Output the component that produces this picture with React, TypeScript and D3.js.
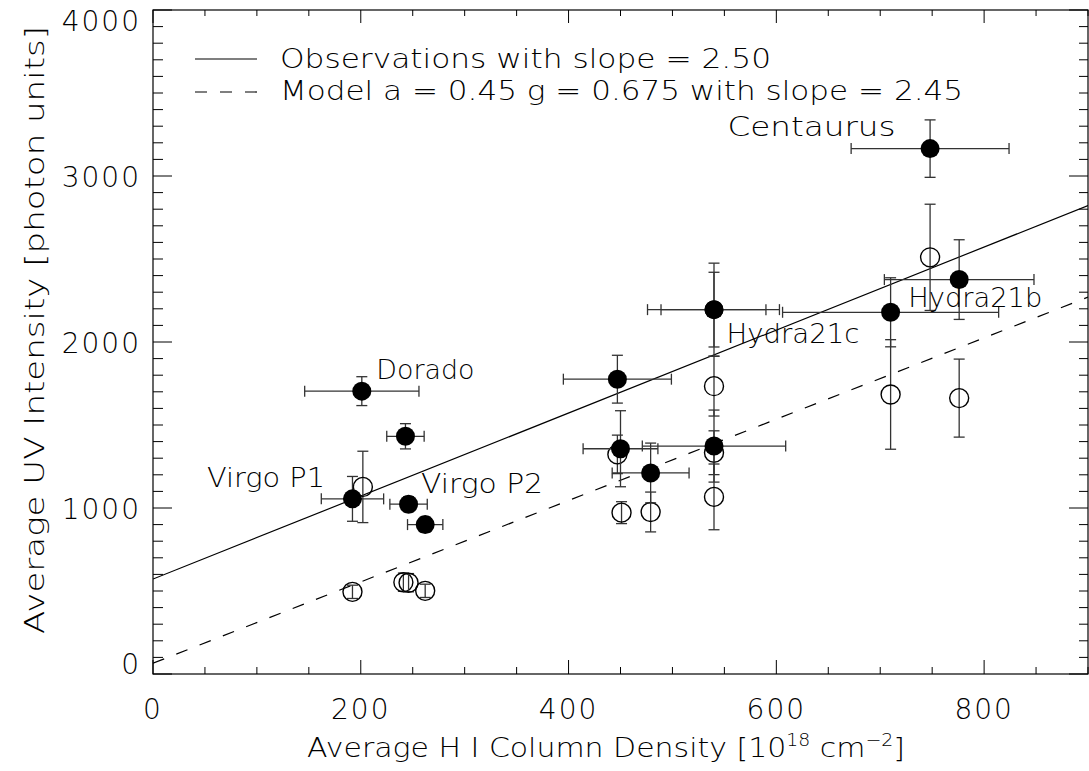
import React from "react";
import * as d3 from "d3";

// ---- data ----
const xTickValues = [0, 200, 400, 600, 800];
const yTickValues = [0, 1000, 2000, 3000, 4000];

// Filled symbols (observations)
const obsX = [201, 243, 192, 246, 262, 447, 450, 479, 540, 540, 540, 710, 748, 776];
const obsY = [1704, 1432, 1055, 1023, 900, 1776, 1357, 1211, 2195, 2195, 1373, 2179, 3165, 2376];
const obsXErrLo = [55, 18, 30, 18, 17, 52, 36, 37, 64, 51, 69, 104, 76, 72];
const obsXErrHi = [55, 18, 30, 18, 17, 52, 36, 37, 50, 63, 69, 104, 76, 72];
const obsYErr = [87, 76, 135, 45, 45, 144, 229, 180, 280, 225, 217, 208, 173, 240];

// Open symbols (model)
const modX = [202, 192, 241, 246, 262, 447, 451, 479, 540, 540, 540, 710, 748, 776];
const modY = [1127, 495, 553, 550, 501, 1323, 972, 976, 1734, 1333, 1067, 1684, 2510, 1662];
const modYErr = [215, 40, 55, 55, 40, 116, 66, 120, 180, 132, 198, 330, 320, 235];

// Labels placed at data coordinates (left, baseline)
const labelText = ["Centaurus", "Hydra21b", "Hydra21c", "Dorado", "Virgo P1", "Virgo P2"];
const labelX = [553, 727, 552, 215, 52, 258];
const labelY = [3241, 2211, 1994, 1777, 1127, 1090];
const labelWidth = [168, 134, 133, 98, 118, 122];

// Fit lines
const obsSlope = 2.5;
const obsIntercept = 572;
const modSlope = 2.45;
const modIntercept = 65;

const legendText = [
  "Observations with slope = 2.50",
  "Model a = 0.45 g = 0.675 with slope = 2.45",
];

export default function App() {
  const W = 1089;
  const H = 771;
  const left = 153, right = 1088, top = 10, bottom = 674;
  const x = d3.scaleLinear().domain([0, 900]).range([left, right]);
  const y = d3.scaleLinear().domain([0, 4000]).range([bottom, top]);

  const xMinor = d3.range(0, 901, 50);
  const yMinor = d3.range(0, 4001, 100);

  const font = "'DejaVu Sans', sans-serif";
  const fw = 200;
  const fs = 27;
  const ink = "#000";
  const bar = "#333";

  const fitPath = (slope: number, icpt: number) =>
    d3.line<number>().x((d) => x(d)).y((d) => y(icpt + slope * d))([0, 900]) || "";

  const cap = 5.5;

  return (
    <svg
      width={W}
      height={H}
      style={{ position: "absolute", left: 0, top: 0, background: "#fff" }}
      fontFamily={font}
      fontWeight={fw}
    >
      <rect x={0} y={0} width={W} height={H} fill="#fff" />
      <defs>
        <clipPath id="plot">
          <rect x={left} y={top} width={right - left} height={bottom - top} />
        </clipPath>
      </defs>

      {/* frame */}
      <rect x={left} y={top} width={right - left} height={bottom - top} fill="none" stroke={ink} strokeWidth={1.2} />

      {/* x ticks */}
      {xMinor.map((v) => {
        const major = v % 200 === 0;
        return (
          <g key={"xt" + v}>
            <line x1={x(v)} x2={x(v)} y1={bottom} y2={bottom - (major ? 14 : 7)} stroke={ink} strokeWidth={1} />
            <line x1={x(v)} x2={x(v)} y1={top} y2={top + (major ? 13 : 6)} stroke={ink} strokeWidth={1} />
          </g>
        );
      })}
      {/* y ticks */}
      {yMinor.map((v) => {
        const major = v % 1000 === 0;
        return (
          <g key={"yt" + v}>
            <line x1={left} x2={left + (major ? 19 : 10)} y1={y(v)} y2={y(v)} stroke={ink} strokeWidth={1} />
            <line x1={right} x2={right - (major ? 19 : 9)} y1={y(v)} y2={y(v)} stroke={ink} strokeWidth={1} />
          </g>
        );
      })}

      {/* x tick labels */}
      {xTickValues.map((v) => (
        <text key={"xl" + v} x={x(v)} y={719} textAnchor="middle" fontSize={28} letterSpacing={2} fill={ink}>
          {v}
        </text>
      ))}
      {/* y tick labels */}
      {yTickValues.map((v) => {
        let dy = 11;
        if (v === 4000) dy = 21;
        if (v === 0) dy = 0;
        return (
          <text key={"yl" + v} x={141} y={y(v) + dy} textAnchor="end" fontSize={28} letterSpacing={2} fill={ink}>
            {v}
          </text>
        );
      })}

      {/* axis titles */}
      <text x={307} y={757} fontSize={fs} fill={ink} textLength={598} lengthAdjust="spacingAndGlyphs">
        Average H I Column Density [10
        <tspan fontSize={17} dy={-11}>18</tspan>
        <tspan dy={11}> cm</tspan>
        <tspan fontSize={17} dy={-11}>−2</tspan>
        <tspan dy={11}>]</tspan>
      </text>
      <text
        transform={`translate(44,${330}) rotate(-90)`}
        textAnchor="middle"
        fontSize={fs}
        fill={ink}
        textLength={608}
        lengthAdjust="spacingAndGlyphs"
      >
        Average UV Intensity [photon units]
      </text>

      {/* legend */}
      <line x1={195} x2={257} y1={59} y2={59} stroke={ink} strokeWidth={1.2} />
      <line x1={195} x2={257} y1={92} y2={92} stroke={ink} strokeWidth={1.2} strokeDasharray="12,13" />
      <text x={280} y={68} fontSize={fs} fill={ink} textLength={491} lengthAdjust="spacingAndGlyphs">
        {legendText[0]}
      </text>
      <text x={280} y={100} fontSize={fs} fill={ink} textLength={683} lengthAdjust="spacingAndGlyphs">
        {legendText[1]}
      </text>

      <g clipPath="url(#plot)">
        {/* fit lines */}
        <path d={fitPath(obsSlope, obsIntercept)} stroke={ink} strokeWidth={1.2} fill="none" />
        <path d={fitPath(modSlope, modIntercept)} stroke={ink} strokeWidth={1.2} fill="none" strokeDasharray="12,13" />

        {/* open symbols with y error bars */}
        {modX.map((mx, i) => {
          const cx = x(mx);
          const y0 = y(modY[i] - modYErr[i]);
          const y1 = y(modY[i] + modYErr[i]);
          return (
            <g key={"m" + i}>
              <line x1={cx} x2={cx} y1={y0} y2={y1} stroke={bar} strokeWidth={1.3} />
              <line x1={cx - cap} x2={cx + cap} y1={y0} y2={y0} stroke={bar} strokeWidth={1.3} />
              <line x1={cx - cap} x2={cx + cap} y1={y1} y2={y1} stroke={bar} strokeWidth={1.3} />
              <circle cx={cx} cy={y(modY[i])} r={9.5} fill="none" stroke={ink} strokeWidth={1.4} />
            </g>
          );
        })}

        {/* filled symbols with x & y error bars */}
        {obsX.map((ox, i) => {
          const cx = x(ox);
          const cy = y(obsY[i]);
          const xa = x(ox - obsXErrLo[i]);
          const xb = x(ox + obsXErrHi[i]);
          const ya = y(obsY[i] - obsYErr[i]);
          const yb = y(obsY[i] + obsYErr[i]);
          return (
            <g key={"o" + i}>
              <line x1={xa} x2={xb} y1={cy} y2={cy} stroke={bar} strokeWidth={1.3} />
              <line x1={xa} x2={xa} y1={cy - cap} y2={cy + cap} stroke={bar} strokeWidth={1.3} />
              <line x1={xb} x2={xb} y1={cy - cap} y2={cy + cap} stroke={bar} strokeWidth={1.3} />
              <line x1={cx} x2={cx} y1={ya} y2={yb} stroke={bar} strokeWidth={1.3} />
              <line x1={cx - cap} x2={cx + cap} y1={ya} y2={ya} stroke={bar} strokeWidth={1.3} />
              <line x1={cx - cap} x2={cx + cap} y1={yb} y2={yb} stroke={bar} strokeWidth={1.3} />
              <circle cx={cx} cy={cy} r={9.5} fill={ink} />
            </g>
          );
        })}
      </g>

      {/* point labels */}
      {labelText.map((t, i) => (
        <text
          key={"lab" + i}
          x={x(labelX[i])}
          y={y(labelY[i])}
          fontSize={fs}
          fill={ink}
          textLength={labelWidth[i]}
          lengthAdjust="spacingAndGlyphs"
        >
          {t}
        </text>
      ))}
    </svg>
  );
}
